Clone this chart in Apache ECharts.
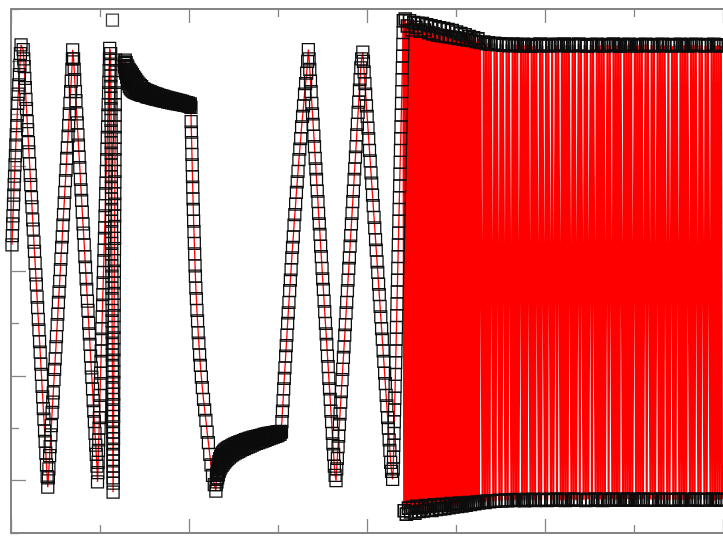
<!DOCTYPE html>
<html>
<head>
<meta charset="utf-8">
<script src="https://cdn.jsdelivr.net/npm/echarts@6/dist/echarts.min.js"></script>
<style>
  html, body { margin: 0; padding: 0; background: #ffffff; }
  #chart { width: 723px; height: 538px; }
</style>
</head>
<body>
<div id="chart"></div>
<script>
// ---- Recorded trace, segment by segment: [x, y] ----

// slow sweep section
const ramp1 = [[1.1,11.0],[1.5,11.35],[1.9,11.8],[2.2,12.1],[2.8,12.55],[3.1,12.9],[3.6,13.3],[4.0,13.62],[4.5,14.05],[5.0,14.4],[5.4,14.8],[5.9,15.2],[6.5,15.55],[7.0,15.95],[7.6,16.4],[8.1,16.75],[8.7,17.1],[9.4,17.5],[10.0,17.85],[10.6,18.3],[11.3,18.63]];

const ramp2 = [[13.7,18.45],[14.3,18.1],[14.8,17.8],[15.5,17.35],[16.1,17.0],[16.8,16.55],[17.4,16.2],[18.2,15.7],[18.7,15.4],[19.6,14.9],[20.1,14.55],[20.9,14.1],[21.6,13.65],[22.2,13.3],[23.0,12.8],[23.6,12.45],[24.4,11.95],[25.0,11.6],[25.8,11.1],[26.4,10.75],[27.1,10.3],[27.9,9.85],[28.5,9.5],[29.3,9.0],[29.9,8.6],[30.7,8.15],[31.4,7.75],[32.1,7.3],[32.8,6.9],[33.5,6.45],[34.2,6.05],[34.9,5.6],[35.6,5.2],[36.3,4.75],[37.0,4.35],[37.7,3.9],[38.4,3.5],[39.1,3.05],[39.9,2.6],[40.6,2.15],[41.3,1.75]];

const ramp3 = [[42.0,2.1],[42.6,2.45],[43.4,2.95],[44.0,3.3],[44.8,3.75],[45.4,4.1],[46.2,4.6],[46.9,5.0],[47.5,5.35],[48.3,5.85],[49.0,6.25],[49.7,6.65],[50.5,7.1],[51.1,7.5],[51.9,7.95],[52.6,8.35],[53.3,8.8],[54.0,9.2],[54.7,9.6],[55.5,10.05],[56.1,10.45],[56.9,10.9],[57.6,11.3],[58.3,11.75],[59.0,12.15],[59.8,12.6],[60.4,13.0],[61.2,13.45],[61.9,13.85],[62.6,14.3],[63.3,14.7],[64.1,15.15],[64.8,15.55],[65.5,16.0],[66.2,16.4],[67.0,16.85],[67.7,17.25],[68.4,17.7],[69.0,18.1],[69.3,18.44]];

const ramp4 = [[70.3,18.1],[71.0,17.7],[71.6,17.3],[72.4,16.85],[73.0,16.5],[73.8,16.0],[74.4,15.65],[75.2,15.2],[75.8,14.8],[76.6,14.35],[77.3,13.95],[78.0,13.5],[78.7,13.1],[79.4,12.7],[80.1,12.25],[80.9,11.8],[81.5,11.45],[82.3,11.0],[83.0,10.55],[83.7,10.15],[84.4,9.7],[85.1,9.3],[85.9,8.85],[86.5,8.5],[87.3,8.0],[88.0,7.6],[88.7,7.2],[89.4,6.75],[90.2,6.3],[90.8,5.95],[91.6,5.5],[92.3,5.05],[93.0,4.65],[93.7,4.25],[94.4,3.8],[95.2,3.35],[95.8,3.0],[96.6,2.55],[97.2,1.95]];

const ramp5 = [[97.6,2.3],[97.9,2.7],[98.3,3.15],[98.6,3.55],[99.0,4.0],[99.3,4.4],[99.7,4.85],[100.0,5.25],[100.4,5.7],[100.7,6.1],[101.1,6.55],[101.4,6.95],[101.8,7.4],[102.1,7.8],[102.5,8.25],[102.9,8.7],[103.2,9.1],[103.6,9.55],[103.9,9.95],[104.3,10.4],[104.6,10.8],[105.0,11.25],[105.3,11.65],[105.7,12.1],[106.0,12.5],[106.4,12.95],[106.7,13.35],[107.1,13.8],[107.5,14.25],[107.8,14.65],[108.2,15.1],[108.5,15.5],[108.9,15.95],[109.2,16.35],[109.6,16.8],[109.9,17.2],[110.3,17.65],[110.6,18.1],[110.9,18.5]];

const ramp6 = [[112.0,18.3],[112.1,17.9],[112.2,17.45],[112.2,17.05],[112.3,16.6],[112.4,16.2],[112.4,15.75],[112.5,15.35],[112.6,14.9],[112.6,14.5],[112.7,14.05],[112.8,13.6],[112.8,13.2],[112.9,12.75],[113.0,12.35],[113.0,11.9],[113.1,11.5],[113.2,11.05],[113.2,10.65],[113.3,10.2],[113.4,9.8],[113.4,9.35],[113.5,8.95],[113.6,8.5],[113.6,8.1],[113.7,7.65],[113.8,7.25],[113.8,6.8],[113.9,6.4],[114.0,5.95],[114.0,5.55],[114.1,5.1],[114.2,4.7],[114.2,4.25],[114.3,3.85],[114.4,3.4],[114.4,3.0],[114.5,2.55],[114.6,2.1],[114.7,1.56]];

const ramp7 = [[114.9,1.9],[115.0,2.35],[115.0,2.75],[115.1,3.2],[115.2,3.6],[115.2,4.05],[115.3,4.45],[115.4,4.9],[115.4,5.3],[115.5,5.75],[115.6,6.15],[115.6,6.6],[115.7,7.0],[115.8,7.45],[115.8,7.85],[115.9,8.3],[116.0,8.7],[116.0,9.15],[116.1,9.55],[116.2,10.0],[116.2,10.4],[116.3,10.85],[116.4,11.25],[116.4,11.7],[116.5,12.1],[116.6,12.55],[116.6,12.95],[116.7,13.4],[116.8,13.8],[116.8,14.25],[116.9,14.65],[117.0,15.1],[117.0,15.5],[117.1,15.95],[117.2,16.35],[117.2,16.8],[117.3,17.2],[117.4,17.65],[117.6,18.05]];

// single stray reading above the sweep
const strayPoint = [[114.0,19.58]];

// relaxation at the high level
const relaxHigh = [[127.4,17.98],[127.6,17.82],[127.9,17.75],[128.1,17.92],[128.4,18.05],[128.6,17.70],[128.9,17.55],[129.1,17.80],[129.4,17.95],[129.6,17.60],[129.9,17.40],[130.1,17.66],[130.4,17.85],[130.6,17.50],[130.9,17.25],[131.1,17.55],[131.4,17.78],[131.6,17.40],[131.9,17.15],[132.1,17.45],[132.4,17.70],[132.6,17.35],[132.9,17.05],[133.1,17.38],[133.4,17.66],[133.6,17.28],[133.9,16.98],[134.1,17.30],[134.4,17.60],[134.6,17.22],[134.9,16.94],[135.1,17.25],[135.4,17.55],[135.6,17.18],[135.9,16.90],[136.2,17.20],[136.5,17.50],[136.8,17.12],[137.1,16.87],[137.4,17.16],[137.7,17.42],[138.0,17.08],[138.3,16.84],[138.6,17.10],[138.9,17.36],[139.2,17.04],[139.5,16.82],[139.8,17.06],[140.1,17.30],[140.4,17.00],[140.7,16.80],[141.0,17.02],[141.3,17.24],[141.6,16.96],[141.9,16.78],[142.2,16.98],[142.6,17.18],[142.9,16.94],[143.3,16.76],[143.6,16.95],[144.0,17.12],[144.3,16.90],[144.7,16.74],[145.0,16.92],[145.4,17.08],[145.7,16.88],[146.1,16.72],[146.4,16.88],[146.8,17.04],[147.1,16.85],[147.5,16.70],[147.9,16.84],[148.3,16.96],[148.7,16.80],[149.1,16.70],[149.5,16.82],[149.9,16.93],[150.3,16.78],[150.7,16.68],[151.1,16.80],[151.5,16.90],[151.9,16.76],[152.3,16.66],[152.7,16.78],[153.1,16.88],[153.5,16.74],[154.0,16.64],[154.4,16.76],[154.9,16.86],[155.3,16.72],[155.8,16.63],[156.2,16.74],[156.7,16.84],[157.1,16.70],[157.6,16.61],[158.0,16.72],[158.5,16.81],[158.9,16.68],[159.4,16.59],[159.9,16.70],[160.4,16.78],[160.9,16.66],[161.4,16.57],[161.9,16.68],[162.4,16.76],[162.9,16.64],[163.4,16.55],[163.9,16.66],[164.4,16.74],[164.9,16.62],[165.4,16.54],[165.9,16.64],[166.4,16.71],[166.9,16.60],[167.4,16.52],[167.9,16.62],[168.5,16.69],[169.0,16.58],[169.6,16.50],[170.1,16.60],[170.7,16.67],[171.2,16.56],[171.8,16.48],[172.3,16.58],[172.9,16.65],[173.4,16.55],[174.0,16.47],[174.5,16.56],[175.1,16.63],[175.6,16.53],[176.2,16.45],[176.7,16.54],[177.3,16.61],[177.8,16.51],[178.4,16.44],[178.9,16.52],[179.5,16.59],[180.0,16.50],[180.6,16.42],[181.1,16.50],[181.7,16.57],[182.2,16.48],[182.8,16.41],[183.3,16.49],[183.9,16.55],[184.4,16.46],[185.0,16.39],[185.5,16.47],[186.1,16.53],[186.6,16.45],[187.2,16.38],[187.7,16.45],[188.3,16.51],[188.8,16.43],[189.4,16.36],[189.9,16.43],[190.5,16.49],[191.0,16.41],[191.6,16.35],[192.1,16.41],[192.7,16.47],[193.2,16.40],[193.8,16.33],[194.3,16.39],[194.9,16.45],[195.4,16.38],[196.0,16.32],[196.5,16.37],[197.1,16.43],[197.6,16.36],[198.2,16.30],[198.7,16.35],[199.3,16.41],[199.8,16.34],[200.4,16.28],[200.9,16.33],[201.5,16.38],[202.2,16.25]];

// switch from high to low
const dropDown = [[202.4,15.7],[202.7,15.3],[203.0,14.9],[203.3,14.45],[203.6,14.05],[203.9,13.6],[204.2,13.2],[204.5,12.75],[204.9,12.35],[205.2,11.9],[205.6,11.5],[206.0,11.05],[206.4,10.65],[206.8,10.2],[207.2,9.8],[207.7,9.35],[208.3,8.95],[208.9,8.5],[209.6,8.1],[210.3,7.65],[211.1,7.25],[211.9,6.8],[212.8,6.4],[213.9,5.95],[215.0,5.55],[216.3,5.1],[217.6,4.7],[219.0,4.3],[220.4,3.85],[221.8,3.45],[223.3,3.0],[224.7,2.6],[226.4,2.2],[228.4,1.85],[230.2,1.6]];

// relaxation at the low level
const relaxLow = [[230.6,1.85],[230.8,2.05],[231.0,2.25],[231.2,2.10],[231.4,1.95],[231.6,2.20],[231.8,2.45],[232.0,2.28],[232.2,2.10],[232.4,2.36],[232.6,2.60],[232.8,2.42],[233.0,2.22],[233.2,2.48],[233.5,2.72],[233.7,2.55],[234.0,2.35],[234.2,2.60],[234.5,2.84],[234.7,2.66],[235.0,2.45],[235.2,2.70],[235.5,2.92],[235.7,2.72],[236.0,2.52],[236.3,2.78],[236.6,3.00],[236.9,2.80],[237.2,2.58],[237.5,2.84],[237.8,3.06],[238.1,2.86],[238.4,2.64],[238.7,2.90],[239.0,3.12],[239.3,2.92],[239.6,2.70],[240.0,2.95],[240.3,3.16],[240.6,2.96],[241.0,2.75],[241.3,3.00],[241.7,3.20],[242.0,3.00],[242.4,2.80],[242.7,3.04],[243.1,3.24],[243.4,3.05],[243.8,2.85],[244.2,3.08],[244.6,3.27],[245.0,3.10],[245.4,2.90],[245.8,3.12],[246.2,3.30],[246.6,3.13],[247.0,2.94],[247.4,3.15],[247.8,3.33],[248.2,3.16],[248.6,2.98],[249.0,3.18],[249.5,3.36],[249.9,3.20],[250.4,3.02],[250.8,3.22],[251.3,3.39],[251.7,3.24],[252.2,3.06],[252.6,3.25],[253.1,3.42],[253.5,3.27],[254.0,3.09],[254.5,3.28],[255.0,3.45],[255.5,3.30],[256.0,3.12],[256.5,3.32],[257.0,3.48],[257.5,3.34],[258.0,3.16],[258.5,3.35],[259.0,3.50],[259.5,3.36],[260.0,3.19],[260.5,3.38],[261.1,3.53],[261.6,3.40],[262.2,3.22],[262.7,3.41],[263.3,3.56],[263.8,3.43],[264.4,3.26],[264.9,3.44],[265.5,3.58],[266.0,3.46],[266.6,3.29],[267.1,3.47],[267.7,3.61],[268.2,3.49],[268.8,3.32],[269.3,3.50],[269.9,3.63],[270.4,3.52],[271.0,3.35],[271.6,3.53],[272.2,3.66],[272.8,3.55],[273.4,3.39],[274.0,3.56],[274.6,3.68],[275.2,3.58],[275.8,3.42],[276.4,3.59],[277.0,3.70],[277.6,3.60],[278.2,3.45],[278.8,3.61],[279.4,3.72],[280.0,3.62],[280.6,3.48],[281.2,3.63],[281.8,3.74],[282.4,3.65],[283.0,3.51],[283.6,3.66],[284.2,3.76],[284.8,3.67],[285.4,3.54],[286.0,3.68],[286.6,3.78],[287.2,3.70],[287.8,3.57],[288.4,3.71],[289.0,3.80],[289.6,3.72],[290.2,3.60],[290.8,3.73],[291.4,3.81],[292.0,3.74],[292.6,3.63],[293.2,3.75],[293.8,3.83],[294.4,3.76],[295.0,3.66],[295.6,3.77],[296.2,3.84],[296.8,3.78],[297.4,3.69],[298.0,3.79],[298.6,3.86],[299.2,3.80],[299.8,3.72],[300.4,3.81],[301.0,3.87],[301.6,3.82],[302.2,3.76],[302.7,3.83],[303.2,3.88],[303.9,3.86]];

// second slow sweep section
const ramp8 = [[304.4,4.25],[305.0,4.65],[305.7,5.05],[306.4,5.5],[307.1,5.9],[307.8,6.3],[308.6,6.75],[309.3,7.15],[310.0,7.55],[310.8,8.0],[311.5,8.4],[312.3,8.8],[313.1,9.25],[313.9,9.65],[314.7,10.05],[315.5,10.5],[316.3,10.9],[317.2,11.3],[318.0,11.75],[318.9,12.15],[319.8,12.55],[320.7,13.0],[321.6,13.4],[322.5,13.8],[323.5,14.25],[324.5,14.65],[325.5,15.05],[326.5,15.5],[327.6,15.9],[328.7,16.3],[329.8,16.75],[331.0,17.15],[332.2,17.55],[333.3,18.0],[334.1,18.45]];

const ramp9 = [[335.0,18.1],[335.7,17.7],[336.5,17.25],[337.2,16.85],[338.0,16.4],[338.8,16.0],[339.5,15.6],[340.3,15.15],[341.0,14.75],[341.8,14.3],[342.6,13.9],[343.3,13.5],[344.1,13.05],[344.9,12.65],[345.6,12.2],[346.4,11.8],[347.2,11.4],[347.9,10.95],[348.7,10.55],[349.5,10.1],[350.2,9.7],[351.0,9.3],[351.8,8.85],[352.5,8.45],[353.3,8.0],[354.1,7.6],[354.8,7.2],[355.6,6.75],[356.4,6.35],[357.1,5.9],[357.9,5.5],[358.7,5.1],[359.4,4.65],[360.2,4.25],[361.0,3.8],[361.7,3.4],[362.5,3.0],[363.3,2.55],[364.2,2.2],[365.2,2.0]];

const ramp10 = [[366.0,2.45],[366.7,2.85],[367.5,3.3],[368.2,3.7],[369.0,4.15],[369.7,4.55],[370.5,5.0],[371.2,5.4],[372.0,5.85],[372.7,6.25],[373.5,6.7],[374.2,7.1],[375.0,7.55],[375.7,7.95],[376.5,8.4],[377.2,8.8],[378.0,9.25],[378.7,9.65],[379.5,10.1],[380.2,10.5],[381.0,10.95],[381.7,11.35],[382.5,11.8],[383.2,12.2],[384.0,12.65],[384.7,13.05],[385.5,13.5],[386.2,13.9],[387.0,14.35],[387.7,14.75],[388.5,15.2],[389.2,15.6],[390.0,16.05],[390.7,16.45],[391.5,16.9],[392.2,17.3],[393.0,17.75],[394.0,18.1],[395.3,18.35]];

const ramp11 = [[396.0,18.0],[396.8,17.6],[397.7,17.15],[398.5,16.75],[399.4,16.3],[400.2,15.9],[401.1,15.45],[401.9,15.05],[402.8,14.6],[403.6,14.2],[404.5,13.75],[405.3,13.35],[406.2,12.9],[407.0,12.5],[407.9,12.05],[408.7,11.65],[409.6,11.2],[410.4,10.8],[411.3,10.35],[412.1,9.95],[413.0,9.5],[413.8,9.1],[414.7,8.65],[415.5,8.25],[416.4,7.8],[417.2,7.4],[418.1,6.95],[418.9,6.55],[419.8,6.1],[420.6,5.7],[421.5,5.25],[422.3,4.85],[423.2,4.4],[424.0,4.0],[424.9,3.55],[425.7,3.15],[426.6,2.7],[427.6,2.35],[428.8,2.05]];

const ramp12 = [[429.5,2.45],[429.8,2.9],[430.1,3.35],[430.4,3.8],[430.7,4.25],[431.0,4.7],[431.3,5.15],[431.6,5.6],[431.9,6.05],[432.2,6.5],[432.5,6.95],[432.8,7.4],[433.1,7.85],[433.4,8.3],[433.7,8.75],[434.0,9.2],[434.3,9.65],[434.6,10.1],[434.9,10.55],[435.2,11.0],[435.5,11.45],[435.8,11.9],[436.1,12.35],[436.4,12.8],[436.7,13.25],[437.0,13.7],[437.3,14.15],[437.6,14.6],[437.9,15.05],[438.2,15.5],[438.5,15.95],[438.8,16.4],[439.1,16.85],[439.4,17.3],[439.7,17.75],[440.0,18.2],[440.3,18.65],[440.6,19.1]];

// fast switching section: only the extremes are sampled
const fastSweep = [
[440.9,19.55],[441.8,0.85],[443.0,19.62],[444.2,0.72],[445.4,19.35],[446.6,0.95],[447.8,19.55],[449.0,0.80],[450.2,19.20],[451.4,0.98],
[452.6,19.48],[453.8,0.76],[455.0,19.30],[456.2,1.02],[457.4,19.45],[458.6,0.82],[459.8,19.15],[461.0,0.96],[462.2,19.44],[463.4,0.84],
[464.6,19.20],[465.8,1.05],[467.0,19.40],[468.2,0.88],[469.4,19.10],[470.6,1.00],[471.8,19.36],[473.0,0.86],[474.2,19.05],[475.4,1.08],
[476.6,19.32],[477.8,0.90],[479.0,19.00],[480.2,1.04],[481.4,19.28],[482.6,0.92],[483.8,18.98],[485.0,1.10],[486.2,19.25],[487.4,0.94],
[488.6,18.95],[489.8,1.06],[491.0,19.22],[492.2,0.97],[493.4,18.93],[494.6,1.12],[495.8,19.18],[497.0,0.99],[498.2,18.90],[499.4,1.08],
[500.6,19.12],[501.8,1.01],[503.0,18.88],[504.2,1.14],[505.4,19.06],[506.6,1.03],[507.8,18.85],[509.0,1.12],[510.2,19.02],[511.4,1.06],
[512.6,18.82],[513.8,1.16],[515.0,18.95],[516.2,1.09],[517.4,18.80],[518.6,1.15],[519.8,18.90],[521.0,1.12],[522.2,18.76],[523.4,1.18],
[524.6,18.86],[525.8,1.15],[527.0,18.72],
[529.9,1.20],[531.2,18.74],[532.5,1.17],[533.8,18.68],[535.1,1.22],[536.4,18.71],[537.7,1.19],[539.0,18.66],[541.9,1.23],[543.2,18.69],
[544.5,1.21],[545.8,18.64],[548.7,1.25],[550.0,18.67],[551.3,1.22],[552.6,18.62],[555.5,1.26],[556.8,18.65],[558.1,1.23],[559.4,18.60],
[562.3,1.27],[563.6,18.66],[564.9,1.24],[566.2,18.61],[567.5,1.28],[568.8,18.64],[570.1,1.25],[573.0,18.59],[574.3,1.27],[575.6,18.65],
[576.9,1.23],[578.2,18.60],[579.5,1.28],[580.8,18.63],[583.7,1.25],[585.0,18.58],[586.3,1.29],[587.6,18.64],[588.9,1.24],[590.2,18.61],
[593.1,1.27],[594.4,18.66],[595.7,1.25],[597.0,18.60],[599.9,1.29],[601.2,18.63],[602.5,1.24],[603.8,18.59],[606.7,1.28],[608.0,18.65],
[609.3,1.26],[612.2,18.61],[613.5,1.30],[614.8,18.64],[617.7,1.25],[619.0,18.60],[620.3,1.28],[621.6,18.66],[622.9,1.24],[624.2,18.62],
[625.5,1.29],[626.8,18.59],[629.7,1.26],[631.0,18.64],[632.3,1.30],[633.6,18.61],[634.9,1.25],[637.8,18.66],[639.1,1.28],[640.4,18.60],
[643.3,1.27],[644.6,18.63],[645.9,1.24],[647.2,18.58],[648.5,1.29],[651.4,18.64],[652.7,1.26],[654.0,18.61],[656.9,1.30],[658.2,18.65],
[659.5,1.25],[660.8,18.60],[662.1,1.28],[663.4,18.63],[664.7,1.24],[666.0,18.59],[667.3,1.29],[670.2,18.64],[671.5,1.26],[672.8,18.61],
[675.7,1.30],[677.0,18.66],[678.3,1.25],[679.6,18.60],[680.9,1.28],[682.2,18.63],[683.5,1.26],[684.8,18.58],[687.7,1.29],[689.0,18.64],
[690.3,1.25],[691.6,18.61],[692.9,1.30],[694.2,18.65],[695.5,1.26],[696.8,18.60],[698.1,1.28],[701.0,18.63],[702.3,1.25],[703.6,18.59],
[704.9,1.29],[706.2,18.64],[707.5,1.26],[708.8,18.61],[710.1,1.30],[713.0,18.65],[714.3,1.25],[715.6,18.60],[718.5,1.28],[719.8,18.63],
[721.1,1.26],[722.4,18.59],[723.7,1.29],[726.6,18.64],[727.9,1.25],[729.2,18.61],[730.5,1.30],[731.8,18.65],[733.1,1.26],[734.4,18.60],
[737.3,1.28],[738.6,18.63],[739.9,1.25],[742.8,18.59],[744.1,1.29],[745.4,18.64],[746.7,1.26],[748.0,18.61],[750.9,1.30],[752.2,18.65],
[753.5,1.25],[754.8,18.60],[756.1,1.28],[757.4,18.63],[758.7,1.26],[760.0,18.59],[762.9,1.29],[764.2,18.64],[765.5,1.26],[766.8,18.61],
[768.1,1.30],[769.4,18.65],[772.3,1.25],[773.6,18.60],[774.9,1.28],[776.2,18.63],[779.1,1.26],[780.4,18.59],[781.7,1.29],[783.0,18.64],
[785.9,1.26],[787.2,18.61],[788.5,1.30],[789.8,18.65],[791.1,1.25],[792.4,18.60],[793.7,1.28],[795.0,18.63],[796.3,1.26],[797.6,18.59],[798.9,1.29]
];

// axis ranges and tick spacing
const xRange = [0, 800];
const xStep = 200;
const yRange = [0, 20];
const yStep = 4;

// ---- chart ----
const slowTrace = [].concat(ramp1, ramp2, ramp3, ramp4, ramp5, ramp6, ramp7,
  relaxHigh, dropDown, relaxLow, ramp8, ramp9, ramp10, ramp11, ramp12);

const frameColor = '#858585';
const traceRed = '#ff0000';
const markerStyle = { color: 'rgba(0,0,0,0)', borderColor: '#0d0d0d', borderWidth: 1.25 };
const denseMarkerStyle = { color: 'rgba(0,0,0,0)', borderColor: '#0d0d0d', borderWidth: 1.6 };

function xAxisAt(position) {
  return {
    type: 'value', position: position,
    min: xRange[0], max: xRange[1], interval: xStep,
    axisLine: { show: true, onZero: false, lineStyle: { color: frameColor, width: 2 } },
    axisTick: { show: true, inside: true, length: 14, lineStyle: { color: frameColor, width: 1.3 } },
    minorTick: { show: true, splitNumber: 2, length: 8, lineStyle: { color: frameColor, width: 1.3 } },
    axisLabel: { show: false },
    splitLine: { show: false },
    minorSplitLine: { show: false }
  };
}

const chart = echarts.init(document.getElementById('chart'), null, { renderer: 'canvas' });
chart.setOption({
  animation: false,
  backgroundColor: '#ffffff',
  grid: { left: 11, top: 9, right: -4, bottom: 5, containLabel: false },
  xAxis: [xAxisAt('bottom'), xAxisAt('top')],
  yAxis: [{
    type: 'value', position: 'left',
    min: yRange[0], max: yRange[1], interval: yStep,
    axisLine: { show: true, onZero: false, lineStyle: { color: frameColor, width: 2 } },
    axisTick: { show: true, inside: true, length: 8, lineStyle: { color: frameColor, width: 1.3 } },
    minorTick: { show: true, splitNumber: 2, length: 15, lineStyle: { color: frameColor, width: 1.3 } },
    axisLabel: { show: false },
    splitLine: { show: false },
    minorSplitLine: { show: false }
  }],
  series: [
    {
      type: 'line', xAxisIndex: 0, yAxisIndex: 0,
      data: slowTrace,
      symbol: 'rect', symbolSize: 12, showSymbol: true,
      lineStyle: { color: traceRed, width: 1.3 },
      itemStyle: markerStyle,
      silent: true, emphasis: { disabled: true }
    },
    {
      type: 'line', xAxisIndex: 0, yAxisIndex: 0,
      data: fastSweep,
      symbol: 'rect', symbolSize: 12, showSymbol: true,
      lineStyle: { color: traceRed, width: 2.1 },
      itemStyle: denseMarkerStyle,
      silent: true, emphasis: { disabled: true }
    },
    {
      type: 'scatter', xAxisIndex: 0, yAxisIndex: 0,
      data: strayPoint,
      symbol: 'rect', symbolSize: 12,
      itemStyle: markerStyle,
      silent: true
    }
  ]
});
</script>
</body>
</html>
